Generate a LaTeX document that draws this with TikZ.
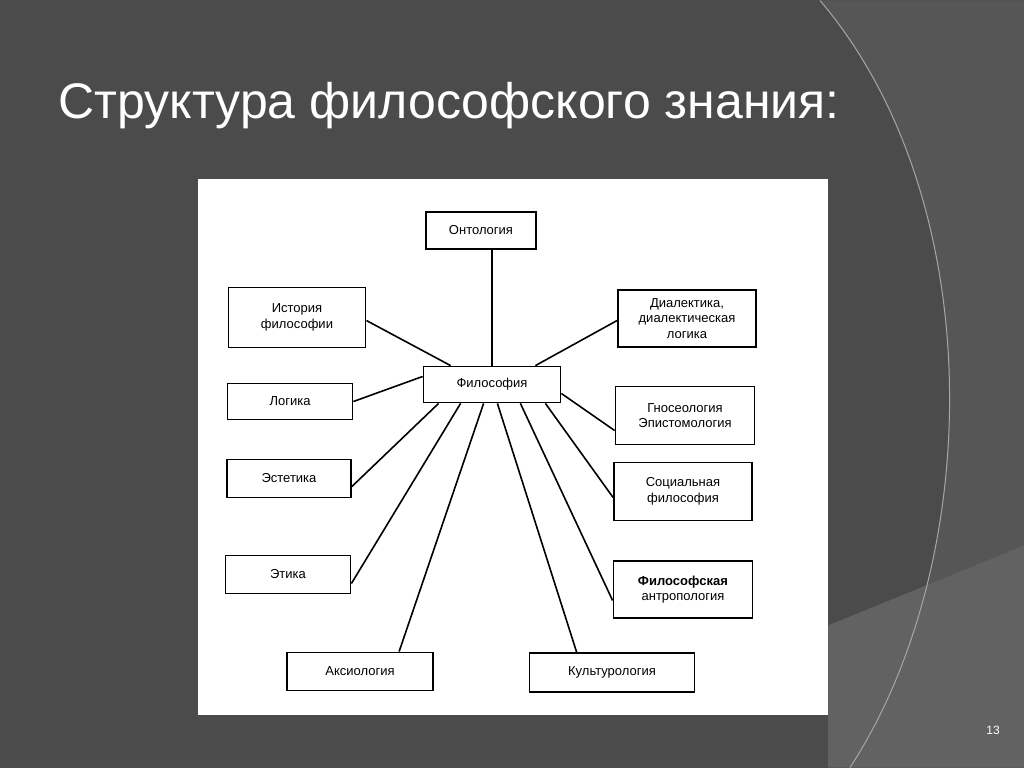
\documentclass[tikz,border=0pt]{standalone}
\usepackage{fontspec}
\setmainfont{Liberation Sans}
\usetikzlibrary{positioning}
\definecolor{slate}{HTML}{4B4B4B}
\definecolor{slatemid}{HTML}{565656}
\definecolor{slatelight}{HTML}{626262}
\tikzset{
  box/.style={draw=black, line width=1.8pt, fill=white, align=center, inner sep=2pt,
    font=\fontsize{13}{15.5}\selectfont},
  link/.style={draw=black, line width=1.6pt}
}
\begin{document}
\begin{tikzpicture}[x=1pt,y=-1pt]
    % background
    \fill[slate] (0,0) rectangle (1024,767);
    \fill[slatemid] (820,0) .. controls (990,200) and (985,560) .. (850,767) -- (1024,767) -- (1024,0) -- cycle;
    \fill[slatelight] (828,625) -- (1024,545) -- (1024,767) -- (828,767) -- cycle;
    \draw[gray!70, line width=1pt] (820,0) .. controls (990,200) and (985,560) .. (850,767);
    \useasboundingbox (0,0) rectangle (1024,767);
    % title
    \node[anchor=base west, text=white, font=\fontsize{50}{58}\selectfont] (title) at (55,118)
      {Структура философского знания:};
    \node[text=white, font=\fontsize{12}{14}\selectfont] (page) at (993,730) {13};
    % white panel
    \fill[white] (198,178) rectangle (828,714);
    % nodes
    \node[box, minimum width=110pt, minimum height=37pt] (onto) at (481,230) {Онтология};
    \node[box, minimum width=137pt, minimum height=60pt] (hist) at (297,317) {История\\философии};
    \node[box, minimum width=138pt, minimum height=57pt] (dial) at (687,318) {Диалектика,\\диалектическая\\логика};
    \node[box, minimum width=137pt, minimum height=36pt] (phil) at (492,384) {Философия};
    \node[box, minimum width=125pt, minimum height=36pt] (logic) at (290,401) {Логика};
    \node[box, minimum width=139pt, minimum height=58pt] (gnos) at (685,415) {Гносеология\\Эпистомология};
    \node[box, minimum width=124pt, minimum height=38pt] (aest) at (289,478) {Эстетика};
    \node[box, minimum width=138pt, minimum height=58pt] (soc) at (683,491) {Социальная\\философия};
    \node[box, minimum width=125pt, minimum height=38pt] (eth) at (288,574) {Этика};
    \node[box, minimum width=139pt, minimum height=57pt] (anth) at (683,589) {\textbf{Философская}\\антропология};
    \node[box, minimum width=146pt, minimum height=38pt] (axio) at (360,671) {Аксиология};
    \node[box, minimum width=165pt, minimum height=39pt] (cult) at (612,672) {Культурология};
    % links
    \draw[link] (onto.south -| phil.north) -- (phil.north);
    \draw[link] ([yshift=-3pt]hist.east) -- ([xshift=28pt]phil.north west);
    \draw[link] ([yshift=-2pt]dial.west) -- ([xshift=-26pt]phil.north east);
    \draw[link] (logic.east) -- ([yshift=8pt]phil.west);
    \draw[link] ([yshift=-15pt]gnos.west) -- ([yshift=-9pt]phil.east);
    \draw[link] ([yshift=-8pt]aest.east) -- ([xshift=16pt]phil.south west);
    \draw[link] ([yshift=-6pt]soc.west) -- ([xshift=-16pt]phil.south east);
    \draw[link] ([yshift=-9pt]eth.east) -- ([xshift=38pt]phil.south west);
    \draw[link] ([yshift=-11pt]anth.west) -- ([xshift=-41pt]phil.south east);
    \draw[link] ([xshift=113pt]axio.north west) -- ([xshift=61pt]phil.south west);
    \draw[link] ([xshift=48pt]cult.north west) -- ([xshift=-64pt]phil.south east);
\end{tikzpicture}
\end{document}
